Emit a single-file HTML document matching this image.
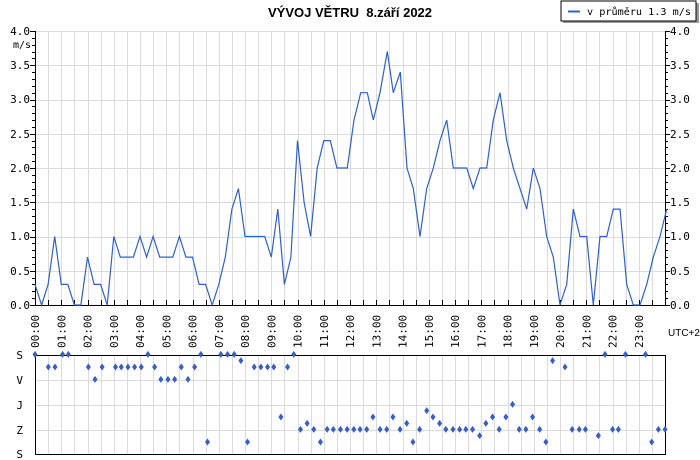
<!DOCTYPE html>
<html><head><meta charset="utf-8"><style>
html,body{margin:0;padding:0;background:#fff;}
svg{display:block;font-family:"DejaVu Sans Mono","Liberation Mono",monospace;}
</style></head><body>
<svg id="s" width="700" height="460" viewBox="0 0 700 460" xmlns="http://www.w3.org/2000/svg">
<rect width="700" height="460" fill="#fff"/>
<g id="grid" stroke="#dcdcdc" stroke-width="1"></g>
<g id="axes" stroke="#000" stroke-width="1" fill="none"></g>
<polyline id="line" fill="none" stroke="#3060c8" stroke-width="1.2"/>
<g id="dots" fill="#3a5fc0"></g>
<text x="350" y="17" text-anchor="middle" font-family="Liberation Sans, sans-serif" font-weight="bold" font-size="13" xml:space="preserve">VÝVOJ VĚTRU  8.září 2022</text>
<rect x="563" y="3" width="136" height="20" fill="#999"/>
<rect x="561" y="1" width="135" height="20" fill="#fff" stroke="#000"/>
<line x1="568" y1="11.5" x2="580" y2="11.5" stroke="#3060c8" stroke-width="2"/>
<text x="587" y="15" font-size="10" textLength="104" lengthAdjust="spacingAndGlyphs">v průměru 1.3 m/s</text>
<g font-size="11" text-anchor="end">
<text x="30" y="35">4.0</text><text x="30" y="69">3.5</text><text x="30" y="103">3.0</text><text x="30" y="138">2.5</text><text x="30" y="172">2.0</text><text x="30" y="206">1.5</text><text x="30" y="240">1.0</text><text x="30" y="275">0.5</text><text x="30" y="309">0.0</text>
<text x="31" y="48" font-size="10">m/s</text>
</g>
<g font-size="11" text-anchor="start">
<text x="670" y="35">4.0</text><text x="670" y="69">3.5</text><text x="670" y="103">3.0</text><text x="670" y="138">2.5</text><text x="670" y="172">2.0</text><text x="670" y="206">1.5</text><text x="670" y="240">1.0</text><text x="670" y="275">0.5</text><text x="670" y="309">0.0</text>
</g>
<text x="668" y="336" font-size="10" font-family="Liberation Sans, sans-serif">UTC+2</text>
<g font-size="11" text-anchor="end">
<text x="23" y="359">S</text><text x="23" y="384">V</text><text x="23" y="409">J</text><text x="23" y="434">Z</text><text x="23" y="458">S</text>
</g>
<g id="hours" font-size="11"></g>
</svg>
<script>
var NS="http://www.w3.org/2000/svg";
function el(p,t,a){var e=document.createElementNS(NS,t);for(var k in a)e.setAttribute(k,a[k]);p.appendChild(e);return e;}
var g=document.getElementById('grid'),ax=document.getElementById('axes');
var X0=35,X1=665,hw=26.25;
for(var i=1;i<48;i++){var x=Math.round(X0+i*hw/2)+0.5;el(g,'line',{x1:x,y1:31,x2:x,y2:305});el(g,'line',{x1:x,y1:355,x2:x,y2:454});}
for(var v=0.5;v<=4.01;v+=0.5){var y=Math.round(305-68.5*v)+0.5;el(g,'line',{x1:X0,y1:y,x2:X1,y2:y});}
[380,405,430].forEach(function(y){el(g,'line',{x1:X0,y1:y+0.5,x2:X1,y2:y+0.5});});
el(ax,'line',{x1:35.5,y1:31,x2:35.5,y2:305.5});
el(ax,'line',{x1:665.5,y1:31,x2:665.5,y2:305.5});
el(ax,'line',{x1:35,y1:305.5,x2:666,y2:305.5});
for(var v=0;v<=40;v++){var y=Math.round(305-6.85*v)+0.5;var l=(v%5==0)?5:3;el(ax,'line',{x1:35-l,y1:y,x2:35.5,y2:y});el(ax,'line',{x1:665.5,y1:y,x2:665+l,y2:y});}
for(var i=0;i<=48;i++){var x=Math.round(X0+i*hw/2)+0.5;el(ax,'line',{x1:x,y1:300,x2:x,y2:305});}
el(ax,'rect',{x:35.5,y:355.5,width:630,height:99});
var hg=document.getElementById('hours');
var hrs=["00:00","01:00","02:00","03:00","04:00","05:00","06:00","07:00","08:00","09:00","10:00","11:00","12:00","13:00","14:00","15:00","16:00","17:00","18:00","19:00","20:00","21:00","22:00","23:00"];
hrs.forEach(function(h,i){var x=X0+i*hw+4;var t=el(hg,'text',{x:0,y:0,transform:'translate('+x+',348) rotate(-90)'});t.textContent=h;});
var a=[0.3,0,0.3,1.0,0.3,0.3,0,0,0.7,0.3,0.3,0,1.0,0.7,0.7,0.7,1.0,0.7,1.0,0.7,0.7,0.7,1.0,0.7,0.7,0.3,0.3,0,0.3,0.7,1.4,1.7,1.0,1.0,1.0,1.0,0.7,1.4,0.3,0.7,2.4,1.5,1.0,2.0,2.4,2.4,2.0];
var pts=[];a.forEach(function(v,k){pts.push((X0+6.5625*k).toFixed(1)+','+(305-68.5*v).toFixed(1));});
var b=[[22,2.0],[42,2.7],[62,3.1],[82,3.1],[100,2.7],[120,3.1],[142,3.7],[160,3.1],[181,3.4],[201,2.0],[220,1.7],[240,1.0],[260,1.7],[280,2.0],[300,2.4],[320,2.7],[340,2.0],[360,2.0],[380,2.0],[400,1.7],[420,2.0],[440,2.0],[460,2.7],[480,3.1],[500,2.4],[520,2.0],[540,1.7],[560,1.4],[580,2.0],[600,1.7],[620,1.0],[640,0.7],[660,0],[680,0.3],[700,1.4],[720,1.0],[740,1.0],[760,0],[780,1.0],[800,1.0],[820,1.4],[840,1.4],[860,0.3],[880,0],[900,0],[920,0.3],[940,0.7],[960,1.0],[980,1.4]];
b.forEach(function(p){pts.push((340+p[0]/3).toFixed(1)+','+(305-68.5*p[1]).toFixed(1));});
document.getElementById('line').setAttribute('points',pts.join(' '));
var d=[[76,133],[106,171],[121,171],[138,133],[151,133],[196,171],[211,208],[227,171],[257,171],[270,171],[285,171],[300,171],[315,171],[330,133],[345,171],[359,208],[375,208],[390,208],[405,171],[420,208],[435,171],[449,133],[464,396],[494,133],[509,133],[524,133],[539,152],[554,396],[569,171],[584,171],[599,171],[613,171],[629,321],[644,171],[658,133],[673,358],[688,340],[703,358],[718,396],[733,358],[747,358],[763,358],[778,358],[793,358],[807,358],[822,358],[836,321],[852,358],[867,358],[881,321],[897,358],[912,340],[926,396],[941,358],[957,302],[971,321],[986,340],[1000,358],[1016,358],[1031,358],[1045,358],[1060,358],[1076,377],[1090,340],[1105,321],[1120,358],[1135,321],[1150,283],[1165,358],[1180,358],[1195,321],[1211,358],[1225,396],[1240,152],[1268,171],[1284,358],[1300,358],[1314,358],[1343,377],[1358,133],[1375,358],[1388,358],[1404,133],[1449,133],[1463,396],[1478,358],[1493,358]];
var dg=document.getElementById('dots');
d.forEach(function(p){var x=35+(p[0]-76)/2.249,y=310+p[1]/3;el(dg,'polygon',{points:(x)+','+(y-3.5)+' '+(x+2.5)+','+y+' '+x+','+(y+3.5)+' '+(x-2.5)+','+y});});
</script>
</body></html>
